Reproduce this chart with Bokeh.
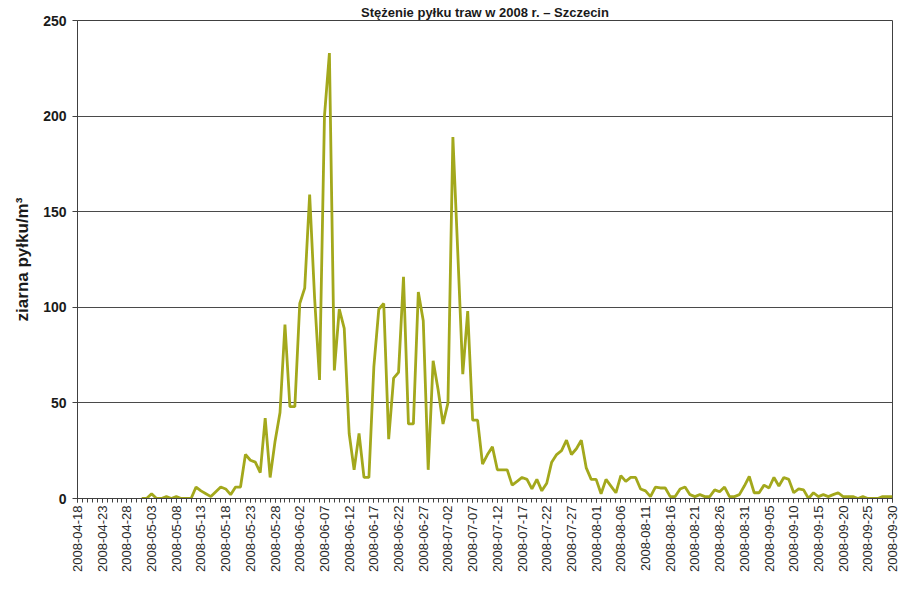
import math
from bokeh.plotting import figure
from bokeh.models import Range1d, FixedTicker, ColumnDataSource
from bokeh.embed import file_html
from bokeh.resources import INLINE

title_text = "Stężenie pyłku traw w 2008 r. – Szczecin"
y_label = "ziarna pyłku/m³"

tick_labels = [
    "2008-04-18", "2008-04-23", "2008-04-28", "2008-05-03", "2008-05-08",
    "2008-05-13", "2008-05-18", "2008-05-23", "2008-05-28", "2008-06-02",
    "2008-06-07", "2008-06-12", "2008-06-17", "2008-06-22", "2008-06-27",
    "2008-07-02", "2008-07-07", "2008-07-12", "2008-07-17", "2008-07-22",
    "2008-07-27", "2008-08-01", "2008-08-06", "2008-08-11", "2008-08-16",
    "2008-08-21", "2008-08-26", "2008-08-31", "2008-09-05", "2008-09-10",
    "2008-09-15", "2008-09-20", "2008-09-25", "2008-09-30",
]

nan = float("nan")
# daily pollen concentration, 2008-04-18 .. 2008-09-30 (no data before 2008-05-01)
pollen = [
    nan, nan, nan, nan, nan, nan, nan, nan, nan, nan, nan, nan, nan,
    0, 0, 2.5, 0, 0, 1, 0, 1, 0, 0, 0, 6, 4, 2.5, 1, 3.5, 6, 5, 2, 6, 6,
    23, 20, 19, 13.5, 42, 11, 30, 45, 91, 48, 48, 102, 110, 159, 105, 62,
    200, 233, 67, 99, 89, 34, 15, 34, 11, 11, 69, 99, 102, 31, 63, 66,
    116, 39, 39, 108, 93, 15, 72, 57, 39, 50, 189, 128, 65, 98, 41, 41,
    18, 23, 27, 15, 15, 15, 7, 9, 11, 10, 5, 10, 4, 8, 19, 23, 25, 30.5,
    23, 26, 30.5, 16, 10, 10, 2.5, 10, 6.5, 3, 12, 9, 11, 11, 5, 4, 1,
    6, 5.5, 5.5, 1, 1, 5, 6, 2, 1, 2, 1, 1, 4.5, 3.5, 6, 1, 1, 2, 6.5,
    11.5, 3, 3, 7, 5.5, 11, 6.5, 11, 10, 3, 5, 4.5, 0, 3, 1, 2, 1, 2, 3,
    1, 1, 1, 0, 1, 0, 0, 0, 1, 1, 1,
]
days = list(range(len(pollen)))
y_ticks = [0, 50, 100, 150, 200, 250]

src = ColumnDataSource(data=dict(day=days, val=pollen))

font = "Liberation Sans"
p = figure(width=901, height=574, output_backend="svg", toolbar_location=None,
           x_range=Range1d(0, len(days) - 1), y_range=Range1d(0, 250),
           min_border_left=77, min_border_right=9, min_border_top=20,
           min_border_bottom=70)
p.background_fill_color = "white"
p.border_fill_color = "white"
p.outline_line_color = "#404040"
p.outline_line_width = 1

p.title.text = title_text
p.title.align = "center"
p.title.text_font = font
p.title.text_font_size = "13px"
p.title.text_font_style = "bold"
p.title.text_color = "#1a1a1a"
p.title.standoff = 2
p.title.offset = 0

p.xgrid.visible = False
p.ygrid.ticker = FixedTicker(ticks=y_ticks)
p.ygrid.grid_line_color = "#4a4a4a"
p.ygrid.grid_line_width = 1

xa = p.xaxis[0]
xa.ticker = FixedTicker(ticks=list(range(0, len(days), 5)), minor_ticks=days)
xa.major_label_overrides = {i * 5: lab for i, lab in enumerate(tick_labels)}
xa.major_label_orientation = math.pi / 2
xa.major_label_text_font = font
xa.major_label_text_font_size = "13px"
xa.major_label_text_color = "#2a2a2a"
xa.major_label_standoff = 3
xa.major_tick_in = 0
xa.major_tick_out = 4
xa.minor_tick_in = 0
xa.minor_tick_out = 4
xa.major_tick_line_color = "#404040"
xa.minor_tick_line_color = "#404040"
xa.axis_line_color = "#404040"

ya = p.yaxis[0]
ya.ticker = FixedTicker(ticks=y_ticks)
ya.major_label_text_font = font
ya.major_label_text_font_size = "14px"
ya.major_label_text_font_style = "bold"
ya.major_label_text_color = "#1a1a1a"
ya.major_label_standoff = 6
ya.major_tick_in = 0
ya.major_tick_out = 5
ya.minor_tick_line_color = None
ya.major_tick_line_color = "#404040"
ya.axis_line_color = "#404040"
ya.axis_label = y_label
ya.axis_label_text_font = font
ya.axis_label_text_font_size = "17px"
ya.axis_label_text_font_style = "bold"
ya.axis_label_text_color = "#1a1a1a"
ya.axis_label_standoff = 8

p.line("day", "val", source=src, line_color="#a3a81c", line_width=2.8)

open("out.html", "w").write(file_html(p, INLINE))
